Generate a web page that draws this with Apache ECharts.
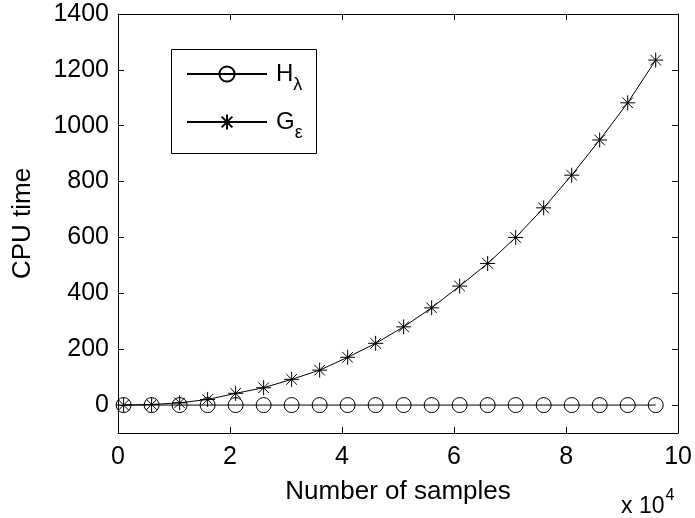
<!DOCTYPE html>
<html>
<head>
<meta charset="utf-8">
<script src="https://cdn.jsdelivr.net/npm/echarts@6/dist/echarts.min.js"></script>
<style>html,body{margin:0;padding:0;background:#fff}#c{width:695px;height:518px}</style>
</head>
<body>
<div id="c"></div>
<script>
// samples in units of 10^4
const xValues = [0.1, 0.6, 1.1, 1.6, 2.1, 2.6, 3.1, 3.6, 4.1, 4.6, 5.1, 5.6, 6.1, 6.6, 7.1, 7.6, 8.1, 8.6, 9.1, 9.6];
const hLambda = [0, 0, 0, 0, 0, 0, 0, 0, 0, 0, 0, 0, 0, 0, 0, 0, 0, 0, 0, 0];
const gEpsilon = [0, 2, 8, 20, 42, 62, 92, 125, 171, 221, 280, 348, 426, 507, 600, 706, 823, 949, 1082, 1235];
const yTicks = [0, 200, 400, 600, 800, 1000, 1200, 1400];
const xTicks = [0, 2, 4, 6, 8, 10];

const FONT = 'Liberation Sans, Arial, Helvetica, sans-serif';
const STAR = 'path://M0,-10L0,10M-10,0L10,0M-7.07,-7.07L7.07,7.07M-7.07,7.07L7.07,-7.07';

const chart = echarts.init(document.getElementById('c'), null, {renderer: 'canvas'});

const axisCommon = {
  axisLine: {show: true, onZero: false, lineStyle: {color: '#000', width: 1}},
  splitLine: {show: false}
};

chart.setOption({
  backgroundColor: '#fff',
  animation: false,
  textStyle: {fontFamily: FONT},
  grid: {left: 118, right: 14, top: 14, bottom: 85},
  legend: {
    left: 186, top: 62, orient: 'vertical',
    itemWidth: 80, itemHeight: 19, itemGap: 16,
    padding: 0,
    data: ['H', 'G'],
    formatter: function (name) {
      return name === 'H' ? '{m|H}{s|λ}' : '{m|G}{s|ε}';
    },
    textStyle: {
      fontFamily: FONT, color: '#000',
      rich: {
        m: {fontSize: 24, fontFamily: FONT, color: '#000', padding: [0, 0, 0, 4]},
        s: {fontSize: 18, fontFamily: FONT, color: '#000', padding: [22, 0, 0, 0]}
      }
    }
  },
  graphic: [
    {type: 'rect', left: 169, top: 47, shape: {width: 145, height: 104}, style: {fill: 'none', stroke: '#000', lineWidth: 1}, z: 0},
    {type: 'text', left: 621, top: 488, style: {text: '{a|x 10}{b|4}', fill: '#000',
      rich: {a: {fontSize: 23, fontFamily: FONT, fill: '#000'}, b: {fontSize: 16, fontFamily: FONT, fill: '#000', padding: [0, 0, 22, 1]}}}}
  ],
  xAxis: [
    Object.assign({}, axisCommon, {
      type: 'value', position: 'bottom', min: 0, max: 10, interval: 2,
      name: 'Number of samples', nameLocation: 'middle', nameGap: 46,
      nameTextStyle: {fontSize: 26, fontFamily: FONT, color: '#000'},
      axisLabel: {show: true, fontSize: 25, fontFamily: FONT, color: '#000', margin: 12,
        customValues: xTicks, formatter: v => String(v)},
      axisTick: {show: true, inside: true, length: 6, lineStyle: {color: '#000', width: 1}, customValues: xTicks}
    }),
    Object.assign({}, axisCommon, {
      type: 'value', position: 'top', min: 0, max: 10, interval: 2,
      axisLabel: {show: false},
      axisTick: {show: true, inside: true, length: 6, lineStyle: {color: '#000', width: 1}, customValues: xTicks}
    })
  ],
  yAxis: [
    Object.assign({}, axisCommon, {
      type: 'value', position: 'left', min: -100, max: 1400,
      name: 'CPU time', nameLocation: 'middle', nameGap: 82, nameRotate: 90,
      nameTextStyle: {fontSize: 26, fontFamily: FONT, color: '#000'},
      axisLabel: {show: true, fontSize: 25, fontFamily: FONT, color: '#000', margin: 9,
        customValues: yTicks, formatter: v => String(v)},
      axisTick: {show: true, inside: true, length: 6, lineStyle: {color: '#000', width: 1}, customValues: yTicks}
    }),
    Object.assign({}, axisCommon, {
      type: 'value', position: 'right', min: -100, max: 1400,
      axisLabel: {show: false},
      axisTick: {show: true, inside: true, length: 6, lineStyle: {color: '#000', width: 1}, customValues: yTicks}
    })
  ],
  series: [
    {
      name: 'H', type: 'line',
      data: xValues.map((x, i) => [x, hLambda[i]]),
      symbol: 'circle', symbolSize: 15, showAllSymbol: true,
      lineStyle: {color: '#000', width: 1},
      itemStyle: {color: 'rgba(0,0,0,0)', borderColor: '#000', borderWidth: 1},
      z: 2
    },
    {
      name: 'G', type: 'line', smooth: false,
      data: xValues.map((x, i) => [x, gEpsilon[i]]),
      symbol: STAR, symbolSize: 15, showAllSymbol: true,
      lineStyle: {color: '#000', width: 1},
      itemStyle: {color: '#000', borderColor: '#000', borderWidth: 1},
      z: 3
    }
  ]
});
</script>
</body>
</html>
